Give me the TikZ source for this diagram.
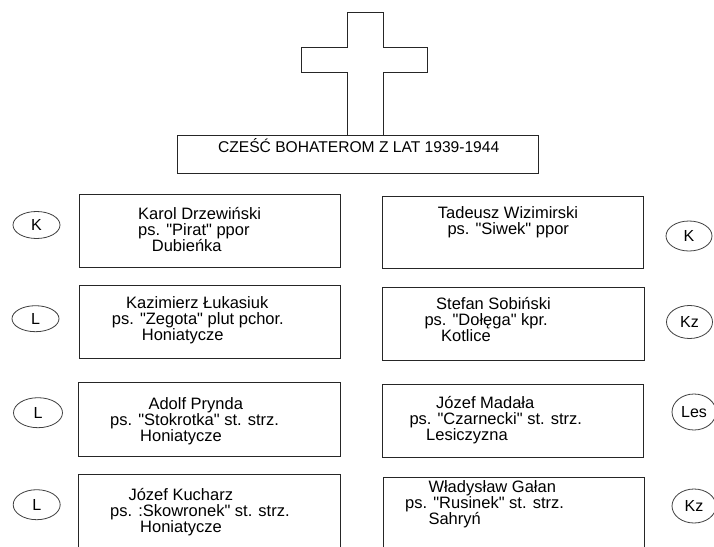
\documentclass[tikz,border=0pt]{standalone}
\usepackage{fontspec}
\setmainfont{Liberation Sans}[Ligatures=TeXOff]
\usetikzlibrary{shapes.geometric}
\begin{document}
\begin{tikzpicture}[x=1pt,y=-1pt,
  box/.style={draw=black!85, line width=1pt, inner sep=0pt},
  ell/.style={draw=black!75, line width=0.8pt, ellipse, inner sep=0pt, font=\fontsize{16}{16}\selectfont},
  txt/.style={anchor=base west, inner sep=0pt, font=\fontsize{16.5}{16}\selectfont},
  ttl/.style={anchor=base, inner sep=0pt, font=\fontsize{15.6}{16}\selectfont}]
\useasboundingbox (0,0) rectangle (714,546);
\clip (0,0) rectangle (714,546);
\fill[white] (0,0) rectangle (714,546);
% banner and cross
\node[box, minimum width=361.4pt, minimum height=37.6pt] (banner) at (358,154.5) {};
\node[ttl] (title) at (358.7,152) {CZEŚĆ BOHATEROM Z LAT 1939-1944};
\draw[black!85, line width=1pt] (banner.north -| 347.7,0) -- (347.7,72) -- (301.7,72) -- (301.7,47.7)
  -- (347.7,47.7) -- (347.7,12.3) -- (383.3,12.3) -- (383.3,47.7) -- (427.3,47.7)
  -- (427.3,72) -- (383.3,72) -- (383.3,0 |- banner.north);
% left boxes
\node[box, minimum width=261pt, minimum height=73pt] (L1) at (209.5,230.8) {};
\node[box, minimum width=261.4pt, minimum height=73.3pt] (L2) at (210,321.7) {};
\node[box, minimum width=261.7pt, minimum height=74pt] (L3) at (209.2,419.7) {};
\node[box, minimum width=261.7pt, minimum height=74pt] (L4) at (209.2,511) {};
% right boxes
\node[box, minimum width=261pt, minimum height=72.3pt] (R1) at (512.8,232.2) {};
\node[box, minimum width=261.7pt, minimum height=73.4pt] (R2) at (513.2,324) {};
\node[box, minimum width=261pt, minimum height=73.3pt] (R3) at (512.8,420.7) {};
\node[box, minimum width=260.7pt, minimum height=73.4pt] (R4) at (513.7,514) {};
% left texts
\node[txt] (l1a) at (138,219) {Karol Drzewiński};
\node[txt] (l1b) at (138,235) {ps. "Pirat" ppor};
\node[txt] (l1c) at (151.7,251) {Dubieńka};
\node[txt] (l2a) at (126,308) {Kazimierz Łukasiuk};
\node[txt] (l2b) at (111.7,324) {ps. "Zegota" plut pchor.};
\node[txt] (l2c) at (141.7,340) {Honiatycze};
\node[txt] (l3a) at (148.3,409) {Adolf Prynda};
\node[txt] (l3b) at (110,425) {ps. "Stokrotka" st. strz.};
\node[txt] (l3c) at (140,441) {Honiatycze};
\node[txt] (l4a) at (128.3,500.5) {Józef Kucharz};
\node[txt] (l4b) at (110,516.5) {ps. :Skowronek" st. strz.};
\node[txt] (l4c) at (140,532.5) {Honiatycze};
% right texts
\node[txt] (r1a) at (437.7,218) {Tadeusz Wizimirski};
\node[txt] (r1b) at (447.3,234) {ps. "Siwek" ppor};
\node[txt] (r2a) at (436,309) {Stefan Sobiński};
\node[txt] (r2b) at (424.3,325) {ps. "Dołęga" kpr.};
\node[txt] (r2c) at (441,341) {Kotlice};
\node[txt] (r3a) at (436,408.5) {Józef Madała};
\node[txt] (r3b) at (409.3,424.5) {ps. "Czarnecki" st. strz.};
\node[txt] (r3c) at (426,440.5) {Lesiczyzna};
\node[txt] (r4a) at (428.3,492) {Władysław Gałan};
\node[txt] (r4b) at (405,508) {ps. "Rusinek" st. strz.};
\node[txt] (r4c) at (428.3,524) {Sahryń};
% ellipses
\node[ell, minimum width=47pt, minimum height=27pt] (eL1) at (36.5,225) {K};
\node[ell, minimum width=47pt, minimum height=26pt] (eL2) at (35.5,318.7) {L};
\node[ell, minimum width=49pt, minimum height=30pt] (eL3) at (38,412.7) {L};
\node[ell, minimum width=47pt, minimum height=30pt] (eL4) at (36.7,504.7) {L};
\node[ell, minimum width=46pt, minimum height=30pt] (eR1) at (689,236) {K};
\node[ell, minimum width=46pt, minimum height=33pt] (eR2) at (689.5,322) {Kz};
\node[ell, minimum width=44pt, minimum height=36pt] (eR3) at (694,412) {Les};
\node[ell, minimum width=44pt, minimum height=34pt] (eR4) at (694,506) {Kz};
\end{tikzpicture}
\end{document}
